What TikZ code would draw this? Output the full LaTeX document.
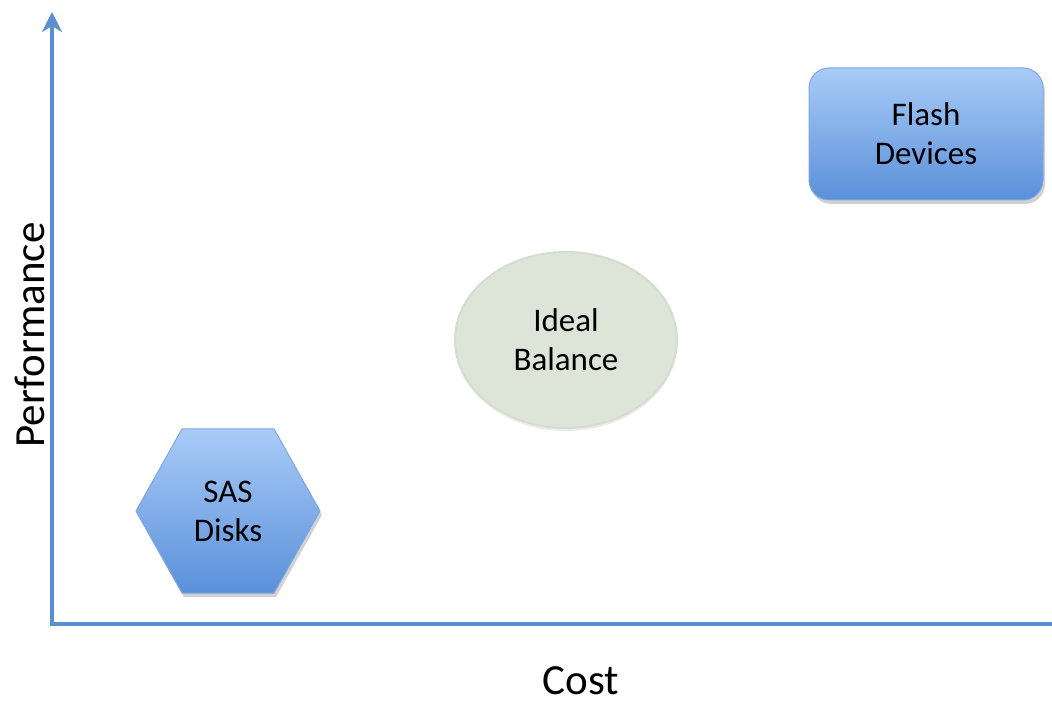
\documentclass[tikz,border=0pt]{standalone}
\usepackage{fontspec}
\setmainfont{Carlito}
\usetikzlibrary{shapes.geometric,shadows,arrows.meta}
\definecolor{axisblue}{HTML}{5B8FD0}
\definecolor{topblue}{HTML}{A9CBF7}
\definecolor{botblue}{HTML}{5A90DA}
\definecolor{edgeblue}{HTML}{7DA6E2}
\definecolor{balgreen}{HTML}{DCE5D7}
\tikzset{
  axisline/.style={draw=axisblue, line width=4pt},
  bluefill/.style={top color=topblue, bottom color=botblue, draw=edgeblue, line width=1pt,
    drop shadow={shadow xshift=2pt, shadow yshift=-4pt, opacity=0.3, fill=black!60}},
  lbl/.style={font=\fontsize{33}{39}\selectfont, align=center, text=black},
  axlbl/.style={font=\fontsize{43}{50}\selectfont, text=black}
}
\begin{document}
\begin{tikzpicture}[x=1pt,y=-1pt]
\useasboundingbox (0,0) rectangle (1052,703);
\coordinate (o) at (52,624);
\coordinate (ytop) at (52,12);
\coordinate (xend) at (1052,624);
\draw[axisline, -{Stealth[length=20pt,width=20pt,inset=6pt]}] (o) -- (ytop);
\draw[axisline] (50,624) -- (xend);
\node[axlbl, inner sep=0pt, anchor=base] (cost) at (581,694) {Cost};
\node[axlbl, rotate=90] (perf) at (30,335) {Performance};
\node[regular polygon, regular polygon sides=6, minimum size=184pt, inner sep=0pt, bluefill, yscale=1.03] (sas) at (228,511) {};
\node[lbl] at (sas.center) {SAS\\Disks};
\node[rounded corners=20pt, minimum width=234pt, minimum height=132pt, bluefill] (flash) at (926,134) {};
\node[lbl] at (flash.center) {Flash\\Devices};
\node[ellipse, minimum width=222pt, minimum height=176pt, fill=balgreen, draw=balgreen!92!gray, line width=2pt,
  drop shadow={shadow xshift=0pt, shadow yshift=-3pt, opacity=0.15, fill=black!50}] (ideal) at (566,340) {};
\node[lbl] at (ideal.center) {Ideal\\Balance};
\end{tikzpicture}
\end{document}
